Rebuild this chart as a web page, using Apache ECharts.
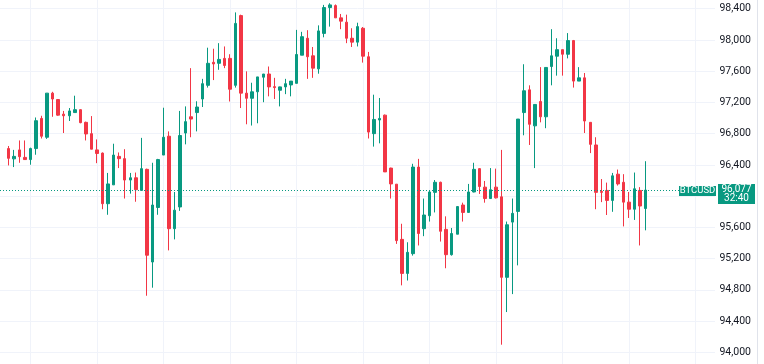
<!DOCTYPE html>
<html><head><meta charset="utf-8">
<script src="https://cdn.jsdelivr.net/npm/echarts@6/dist/echarts.min.js"></script>
<style>html,body{margin:0;padding:0;background:#fff;overflow:hidden;width:764px;height:364px;position:relative}#c{position:absolute;left:0;top:-28px;width:764px;height:417px}</style>
</head><body><div id="c"></div>
<script>
// Hourly BTCUSD candles
const opens = [96609,96477,96592,96496,96468,96609,96995,96754,97319,97237,97050,97029,97070,97107,96945,96800,96592,96551,95903,96144,96509,96480,96206,96235,96073,96343,95156,95854,96526,96767,95583,95861,96808,97016,97070,97244,97419,97714,97701,97764,97764,97419,98312,97319,97253,97336,97523,97564,97402,97356,97399,97424,97444,97805,98022,97797,97630,98084,98415,98440,98283,98228,98022,97972,98150,97785,96800,96975,97037,96359,96153,95446,95010,95263,96372,95583,95749,96048,96177,95574,95250,95512,95886,95791,96053,96352,96115,95969,96115,95991,94960,95667,95804,97070,97361,96900,97212,97016,97660,97792,97876,97817,97992,97473,97515,96945,96655,96060,96073,95945,96281,96177,95923,95832,96073,95841];
const closes = [96484,96509,96505,96468,96609,96966,96767,97319,97244,97037,97029,97091,97107,96941,96796,96601,96546,95903,96156,96526,96480,96206,96235,96082,96352,95243,95886,96468,96754,95583,95820,96776,96954,96987,97141,97440,97701,97693,97751,97673,97369,98212,97319,97253,97336,97527,97564,97399,97390,97399,97440,97473,97814,98042,97785,97639,98116,98415,98449,98283,98241,98022,97972,98171,97792,96820,96982,96995,96310,96156,95430,95010,95280,96372,95521,95758,96053,96177,95550,95250,95521,95866,95791,96053,96343,96123,95969,96082,95978,94960,95633,95779,96987,97349,96920,97174,97016,97648,97797,97876,97817,97992,97473,97515,96962,96663,96048,96048,95945,96260,96156,95923,95832,96094,95873,96077];
const lows = [96393,96372,96427,96464,96402,96530,96738,96733,97016,97029,96808,96962,97070,96933,96713,96601,96422,95832,95761,96144,96359,95969,96032,95928,96073,94724,94827,95761,96526,95305,95446,95811,96663,96754,96829,97141,97390,97486,97618,97639,97212,97390,97128,96920,96904,96933,97203,97278,97244,97149,97306,97278,97444,97805,97502,97515,97568,98034,98171,98283,98138,97959,97910,97917,97710,96738,96634,96676,96310,95969,95388,94857,94919,95238,95368,95487,95674,95791,95418,95076,95238,95512,95674,95791,96048,96028,95916,95969,95969,94097,94515,94745,95113,96779,96655,96359,96945,96870,97419,97543,97543,97764,97390,97473,96808,96551,95832,95923,95758,95799,96135,95612,95720,95695,95368,95562];
const highs = [96642,96592,96713,96713,96621,97007,97029,97319,97336,97244,97091,97128,97286,97112,96954,97025,96726,96559,96297,96671,96559,96601,96297,96302,96746,96352,96427,96477,97132,96829,96053,97091,97149,97639,97215,97502,97901,97888,97959,97917,97817,98353,98324,97598,97452,97527,97564,97660,97515,97402,97502,97473,98129,98104,98125,97910,98187,98449,98470,98455,98333,98324,98150,98221,98166,97847,97299,97257,97045,96364,96153,95646,95409,96414,96477,95969,96069,96206,96185,95741,95592,95873,95916,96156,96427,96359,96194,96359,96352,96592,95674,95969,96987,97689,97419,97174,97652,97648,98138,98022,97876,98088,98000,97652,97577,96945,96754,96219,96173,96297,96340,96281,96053,96302,96115,96447];
const symbolName = 'BTCUSD';
const lastPrice = 96077;
const countdown = '32:40';
const leadingEmptySlots = 1;
const totalSlots = 129;
const categories = Array.from({length: totalSlots}, (_, i) => 'H' + i);

const UP = '#089981', DOWN = '#f23645';
const candleData = categories.map((c, i) => {
  const k = i - leadingEmptySlots;
  return (k >= 0 && k < opens.length) ? [opens[k], closes[k], lows[k], highs[k]] : '-';
});
// half-slot positions for vertical grid lines through candle centres
const halfCats = Array.from({length: totalSlots * 2 + 1}, (_, j) => 'h' + j);

const chart = echarts.init(document.getElementById('c'), null, {renderer: 'canvas'});
const GRID_RIGHT_X = 715;
chart.setOption({
  animation: false,
  backgroundColor: '#ffffff',
  grid: {left: 0, right: 764 - GRID_RIGHT_X, top: 0, bottom: 0},
  xAxis: [{
    type: 'category', data: categories, boundaryGap: true,
    axisLine: {show: false}, axisTick: {show: false}, axisLabel: {show: false}, splitLine: {show: false}
  }, {
    type: 'category', data: halfCats, boundaryGap: false, position: 'top',
    axisLine: {show: false}, axisTick: {show: false}, axisLabel: {show: false},
    splitLine: {show: true, interval: (idx) => idx >= 11 && (idx - 11) % 24 === 0,
      lineStyle: {color: '#f0f3fa', width: 1}}
  }],
  yAxis: {
    type: 'value', position: 'right', min: 93600, max: 98800, interval: 400,
    axisLine: {show: false}, axisTick: {show: false},
    axisLabel: {align: 'right', margin: 36, color: '#131722', fontFamily: 'Roboto', fontSize: 10.5,
      formatter: v => v.toLocaleString('en-US')},
    splitLine: {lineStyle: {color: '#f0f3fa', width: 1}}
  },
  series: [{
    type: 'candlestick', data: candleData, barWidth: 3,
    itemStyle: {color: UP, color0: DOWN, borderColor: UP, borderColor0: DOWN, borderWidth: 1},
    markLine: {
      silent: true, symbol: ['none', 'none'],
      lineStyle: {type: [1, 2], color: UP, width: 1},
      label: {show: false},
      data: [{yAxis: lastPrice}]
    }
  }]
});

const py = chart.convertToPixel({yAxisIndex: 0}, lastPrice);
chart.setOption({
  graphic: [
    {type: 'line', z: 100, shape: {x1: 757.5, y1: 0, x2: 757.5, y2: 420}, style: {stroke: '#e0e3eb', lineWidth: 1}, silent: true},
    {type: 'rect', z: 100, shape: {x: GRID_RIGHT_X - 36, y: py - 4, width: 37, height: 10}, style: {fill: UP}, silent: true},
    {type: 'text', z: 101, x: GRID_RIGHT_X - 17.5, y: py + 1, style: {text: symbolName, fill: '#ffffff', font: '9.5px Roboto', align: 'center', verticalAlign: 'middle'}, silent: true},
    {type: 'rect', z: 100, shape: {x: GRID_RIGHT_X + 3, y: py - 6, width: 37, height: 20}, style: {fill: UP}, silent: true},
    {type: 'text', z: 101, x: GRID_RIGHT_X + 21.5, y: py - 0.5, style: {text: lastPrice.toLocaleString('en-US'), fill: '#ffffff', font: '10px Roboto', align: 'center', verticalAlign: 'middle'}, silent: true},
    {type: 'text', z: 101, x: GRID_RIGHT_X + 21.5, y: py + 8.5, style: {text: countdown, fill: '#ffffff', font: '10px Roboto', align: 'center', verticalAlign: 'middle'}, silent: true}
  ]
});
</script></body></html>
